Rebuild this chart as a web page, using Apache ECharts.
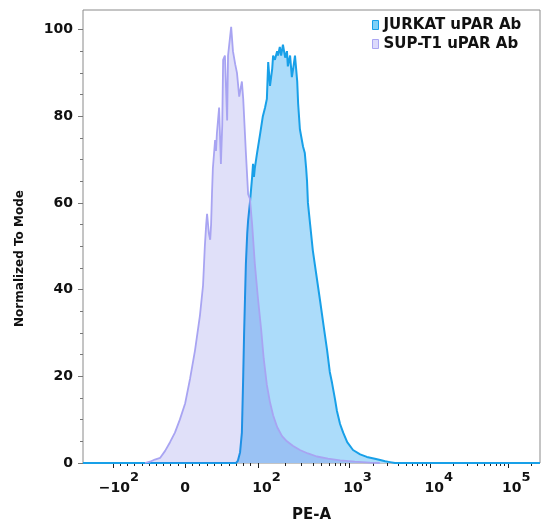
<!DOCTYPE html>
<html><head><meta charset="utf-8">
<script src="https://cdn.jsdelivr.net/npm/echarts@6/dist/echarts.min.js"></script>
<style>html,body{margin:0;padding:0;background:#fff}#c{width:550px;height:531px}</style>
</head><body><div id="c"></div>
<script>
const seriesNames = ['JURKAT uPAR Ab', 'SUP-T1 uPAR Ab'];

// display channel (0-1024, biexponential PE-A scale) and Normalized To Mode values
const jurkatChannel = [0, 343, 347, 352, 356, 359, 361, 363, 365, 368, 370, 374, 379, 381, 383, 385, 390, 397, 403, 408, 412, 415, 419, 424, 426, 430, 435, 437, 441, 444, 448, 453, 457, 459, 464, 468, 471, 475, 480, 482, 486, 493, 497, 500, 502, 504, 509, 515, 522, 531, 540, 547, 553, 558, 565, 569, 576, 583, 592, 605, 621, 636, 654, 666, 677, 688, 699, 1024];
const jurkatValue   = [0, 0, 0.5, 2.5, 7, 20, 30, 38, 46, 53, 56, 60, 66, 69, 66, 68, 71.5, 76, 80, 82, 84, 92.5, 87, 91, 94, 93, 95, 94, 96, 94, 96.5, 93.5, 95, 91.5, 94, 89, 91, 94, 88, 83, 77, 73, 71.5, 68, 65, 60, 55, 49, 44, 37.6, 31, 26, 21, 18.5, 14.5, 12, 9, 7, 4.8, 3, 2, 1.4, 1, 0.7, 0.4, 0.2, 0, 0];

const suptChannel = [139, 150, 161, 173, 184, 195, 206, 217, 229, 240, 251, 262, 269, 273, 276, 278, 282, 285, 287, 289, 291, 296, 298, 300, 305, 309, 312, 314, 318, 323, 325, 332, 336, 341, 345, 350, 356, 359, 365, 370, 374, 379, 385, 392, 399, 405, 412, 419, 426, 435, 446, 457, 470, 486, 504, 524, 549, 576, 609, 643, 665];
const suptValue   = [0, 0.3, 0.8, 1.2, 2.8, 4.8, 7, 10, 13.8, 19.5, 26, 34, 41, 50, 55, 57.5, 53, 51.5, 55, 62, 68, 74.5, 72, 76, 82, 69, 78, 93, 94, 79, 94, 100.6, 95, 92, 90, 84.5, 88, 84, 71.5, 62, 61, 55, 46, 38, 31, 24, 18, 14, 11, 8.3, 6.2, 5, 4, 3, 2.2, 1.5, 1, 0.6, 0.3, 0.1, 0];

// x axis (biexponential) major ticks
const xMajorRaw = [-100, 0, 100, 1000, 10000, 100000];
const xMajorChannel = [67, 229, 392, 596, 778, 952];
const xMajorBase = ['\u221210', '0', '10', '10', '10', '10'];
const xMajorExp = ['2', '', '2', '3', '4', '5'];

const yTickValues = [0, 20, 40, 60, 80, 100];
const yMinorValues = [5, 10, 15, 25, 30, 35, 45, 50, 55, 65, 70, 75, 85, 90, 95];

const FONT = 'DejaVu Sans';

// biexponential display transform built from the major tick anchors
function toChannel(v) {
  const r = xMajorRaw, c = xMajorChannel;
  if (v <= r[2]) {
    for (let i = 0; i < 2; i++) {
      if (v >= r[i] && v <= r[i + 1]) return c[i] + (v - r[i]) / (r[i + 1] - r[i]) * (c[i + 1] - c[i]);
    }
    return c[0];
  }
  const lv = Math.log10(v);
  for (let i = 2; i < r.length - 1; i++) {
    const a = Math.log10(r[i]), b = Math.log10(r[i + 1]);
    if (lv >= a && lv <= b) return c[i] + (lv - a) / (b - a) * (c[i + 1] - c[i]);
  }
  const n = r.length - 1;
  return c[n] + (lv - Math.log10(r[n])) * (c[n] - c[n - 1]);
}

const xMinorChannel = [];
for (let k = 1; k <= 9; k++) { xMinorChannel.push(toChannel(-100 + 10 * k)); xMinorChannel.push(toChannel(10 * k)); }
[100, 1000, 10000, 100000].forEach(d => {
  for (let k = 2; k <= 9; k++) { const ch = toChannel(k * d); if (ch <= 1024) xMinorChannel.push(ch); }
});

const jurkatData = jurkatChannel.map((x, i) => [x, jurkatValue[i]]);
const suptData = suptChannel.map((x, i) => [x, suptValue[i]]);

const chart = echarts.init(document.getElementById('c'), null, { renderer: 'canvas' });
chart.setOption({
  animation: false,
  backgroundColor: '#ffffff',
  grid: { left: 83, right: 10, top: 10, bottom: 68, show: true, borderColor: '#8a8a8a', borderWidth: 1, backgroundColor: 'transparent' },
  legend: {
    orient: 'vertical', left: 372, top: 17, padding: 0, itemWidth: 6, itemHeight: 9, itemGap: 3, icon: 'rect',
    textStyle: { fontFamily: FONT, fontWeight: 'bold', fontSize: 15, color: '#111', lineHeight: 16 },
    data: [
      { name: seriesNames[0], itemStyle: { color: '#7fd0f7', borderColor: '#18a0e8', borderWidth: 1 } },
      { name: seriesNames[1], itemStyle: { color: '#dcdafc', borderColor: '#aaa6f2', borderWidth: 1 } }
    ]
  },
  xAxis: [
    {
      type: 'value', min: 0, max: 1024, position: 'bottom',
      axisLine: { show: false }, splitLine: { show: false },
      axisTick: { show: true, customValues: xMajorChannel, length: 5, lineStyle: { color: '#222', width: 1 } },
      axisLabel: {
        show: true, customValues: xMajorChannel, margin: 13,
        formatter: function (v) {
          let idx = 0, best = Infinity;
          xMajorChannel.forEach((c, i) => { const d = Math.abs(c - v); if (d < best) { best = d; idx = i; } });
          if (!xMajorExp[idx]) return '{z|' + xMajorBase[idx] + '}';
          const sp = xMajorBase[idx].length > 2 ? 'q' : 'p';
          return '{' + sp + '| }{b|' + xMajorBase[idx] + '}{s|' + xMajorExp[idx] + '}';
        },
        rich: {
          p: { fontFamily: FONT, fontSize: 14, width: 17, lineHeight: 14, padding: [10, 0, 0, 0] },
          q: { fontFamily: FONT, fontSize: 14, width: 12, lineHeight: 14, padding: [10, 0, 0, 0] },
          b: { fontFamily: FONT, fontWeight: 'bold', fontSize: 14, color: '#111', lineHeight: 14, padding: [10, 0, 0, 0] },
          s: { fontFamily: FONT, fontWeight: 'bold', fontSize: 13, color: '#111', lineHeight: 13, padding: [0, 0, 11, 0] },
          z: { fontFamily: FONT, fontWeight: 'bold', fontSize: 14, color: '#111', lineHeight: 14, padding: [10, 0, 0, 0] }
        }
      },
      name: 'PE-A', nameLocation: 'middle', nameGap: 45,
      nameTextStyle: { fontFamily: FONT, fontWeight: 'bold', fontSize: 15, color: '#111' }
    },
    {
      type: 'value', min: 0, max: 1024, position: 'bottom', offset: 0,
      axisLine: { show: false }, splitLine: { show: false }, axisLabel: { show: false },
      axisTick: { show: true, customValues: xMinorChannel, length: 3, lineStyle: { color: '#222', width: 1 } }
    }
  ],
  yAxis: [
    {
      type: 'value', min: 0, max: 104.5, interval: 20, position: 'left',
      axisLine: { show: false }, splitLine: { show: false },
      axisTick: { show: true, customValues: yTickValues, length: 5, lineStyle: { color: '#777' } },
      axisLabel: { customValues: yTickValues, fontFamily: FONT, fontWeight: 'bold', fontSize: 14, color: '#111', margin: 10 },
      name: 'Normalized To Mode', nameLocation: 'middle', nameGap: 57,
      nameTextStyle: { fontFamily: FONT, fontWeight: 'bold', fontSize: 12, color: '#111', padding: [0, 44, 0, 0] }
    },
    {
      type: 'value', min: 0, max: 104.5, interval: 20, position: 'left', offset: 0,
      axisLine: { show: false }, splitLine: { show: false }, axisLabel: { show: false },
      axisTick: { show: true, customValues: yMinorValues, length: 3, lineStyle: { color: '#777' } }
    }
  ],
  series: [
    {
      type: 'line', name: seriesNames[0], xAxisIndex: 0, yAxisIndex: 0, data: jurkatData,
      symbol: 'none', z: 2,
      lineStyle: { color: '#18a0e8', width: 2 },
      itemStyle: { color: '#18a0e8' },
      areaStyle: { color: '#acdcfa', opacity: 1 }
    },
    {
      type: 'line', name: seriesNames[1], xAxisIndex: 0, yAxisIndex: 0, data: suptData,
      symbol: 'none', z: 3,
      lineStyle: { color: '#a8a4f2', width: 1.8 },
      itemStyle: { color: '#a8a4f2' },
      areaStyle: { color: 'rgba(60,60,220,0.16)', opacity: 1 }
    }
  ]
});
</script>
</body></html>
